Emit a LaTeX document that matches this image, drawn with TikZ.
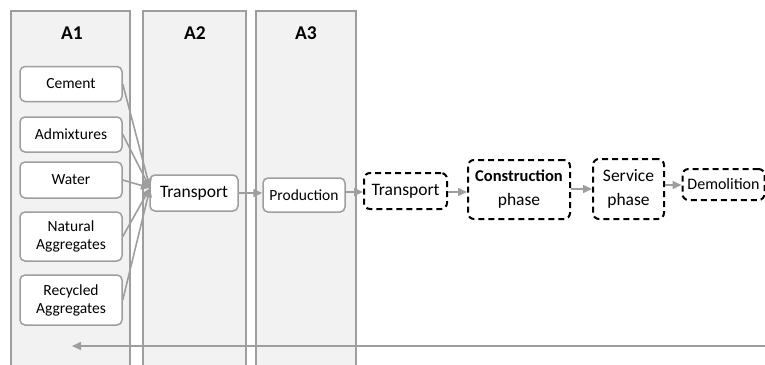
\documentclass[tikz,border=0pt]{standalone}
\usepackage{fontspec}
\setmainfont{Carlito}
\usetikzlibrary{arrows.meta}
\definecolor{colfill}{gray}{0.95}
\definecolor{linegray}{gray}{0.62}
\tikzset{
  column/.style={draw=linegray, fill=colfill, line width=1.5pt},
  inbox/.style={draw=linegray, fill=white, rounded corners=5pt, line width=1.5pt,
    align=center, inner sep=1pt, font=\fontsize{15.5}{18}\selectfont},
  stagebox/.style={inbox, font=\fontsize{17.5}{20}\selectfont},
  dashbox/.style={draw=black, fill=white, dash pattern=on 6pt off 4pt,
    rounded corners=6pt, line width=2pt, align=center, inner sep=1pt,
    font=\fontsize{17.5}{24}\selectfont},
  flow/.style={draw=linegray, line width=1.6pt, -{Triangle[length=9pt,width=8pt]}},
  collabel/.style={font=\fontsize{19.5}{22}\selectfont\bfseries}
}
\begin{document}
\begin{tikzpicture}[x=1pt,y=-1pt]
    \useasboundingbox (0,0) rectangle (765,364);
    \begin{scope}
        \clip (0,0) rectangle (765,364);
        % columns
        \draw [column] (11,11) rectangle (130,372);
        \draw [column] (143,11) rectangle (246,372);
        \draw [column] (256,11) rectangle (356,372);
    \end{scope}
    \node [collabel] (labA1) at (72,33) {A1};
    \node [collabel] (labA2) at (195,33) {A2};
    \node [collabel] (labA3) at (306,33) {A3};
    % raw materials
    \node [inbox, minimum width=102pt, minimum height=35pt] (cement) at (71,84) {Cement};
    \node [inbox, minimum width=102pt, minimum height=35pt] (admix) at (71,134.5) {Admixtures};
    \node [inbox, minimum width=102pt, minimum height=36pt] (water) at (71,180) {Water};
    \node [inbox, minimum width=102pt, minimum height=49pt] (natural) at (71,236.5) {Natural\\Aggregates};
    \node [inbox, minimum width=102pt, minimum height=50pt] (recycled) at (71,300) {Recycled\\Aggregates};
    % stages
    \node [stagebox, minimum width=88pt, minimum height=36pt] (transA) at (194,193) {Transport};
    \node [inbox, minimum width=82pt, minimum height=34pt] (production) at (304,195) {Production};
    \node [dashbox, minimum width=83pt, minimum height=36pt] (transB) at (405.5,191) {Transport};
    \node [dashbox, minimum width=102pt, minimum height=59pt] (construction) at (519,189.5) {{\fontsize{16.5}{24}\selectfont\bfseries Construction}\\phase};
    \node [dashbox, minimum width=71pt, minimum height=60pt] (service) at (628.5,189) {Service\\phase};
    \node [dashbox, minimum width=82pt, minimum height=31pt, font=\fontsize{16}{18}\selectfont] (demolition) at (723.5,184.5) {Demolition};
    % inputs to transport
    \coordinate (merge) at (150,188);
    \draw [flow] (cement.east) -- (merge);
    \draw [flow] (admix.east) -- (merge);
    \draw [flow] (water.east) -- (merge);
    \draw [flow] (natural.east) -- (merge);
    \draw [flow] (recycled.east) -- (merge);
    % chain
    \draw [flow] (transA.east |- 0,193) -- (production.west |- 0,193);
    \draw [flow] (production.east |- 0,192) -- (transB.west |- 0,192);
    \draw [flow] (transB.east |- 0,192) -- (construction.west |- 0,192);
    \draw [flow] (construction.east |- 0,189) -- (service.west |- 0,189);
    \draw [flow] (service.east |- 0,185) -- (demolition.west |- 0,185);
    % return loop
    \coordinate (loopstart) at (765,346);
    \coordinate (loopend) at (72,346);
    \draw [flow] (loopstart) -- (loopend);
\end{tikzpicture}
\end{document}
